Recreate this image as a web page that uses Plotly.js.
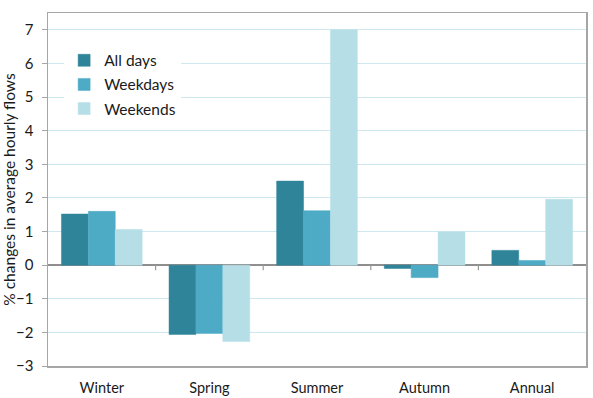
<!DOCTYPE html>
<html>
<head>
<meta charset="utf-8">
<script src="https://cdn.plot.ly/plotly-3.0.1.min.js"></script>
<style>
  html, body { margin: 0; padding: 0; background: #fff; }
  #chart { width: 593px; height: 398px; }
</style>
</head>
<body>
<div id="chart"></div>
<script>
// Seasonal change in average hourly flows (%)
const seasons = ['Winter', 'Spring', 'Summer', 'Autumn', 'Annual'];
const allDays = [1.52, -2.06, 2.50, -0.10, 0.44];
const weekdays = [1.60, -2.03, 1.62, -0.37, 0.14];
const weekends = [1.06, -2.27, 7.00, 0.99, 1.96];

const seriesNames = ['All days', 'Weekdays', 'Weekends'];
const seriesColors = ['#2f8499', '#4dabc6', '#b6dee7'];
const seriesValues = [allDays, weekdays, weekends];

const traces = seriesValues.map((vals, i) => ({
  type: 'bar',
  name: seriesNames[i],
  legendgroup: 'g' + i,
  x: seasons,
  y: vals,
  marker: { color: seriesColors[i], line: { color: seriesColors[i], width: 0.5 } },
  hoverinfo: 'x+y+name'
}));

// small tick marks on the zero line between categories
const tickShapes = [0.5, 1.5, 2.5, 3.5].map(b => ({
  type: 'line',
  xref: 'x', yref: 'y',
  ysizemode: 'pixel', yanchor: 0,
  x0: b, x1: b, y0: 0, y1: -5,
  line: { color: '#9a9a9a', width: 1.2 }
}));

const layout = {
  width: 593, height: 398,
  margin: { l: 48, r: 7, t: 13, b: 32 },
  paper_bgcolor: '#ffffff',
  plot_bgcolor: '#ffffff',
  font: { family: 'Lato, "Noto Sans", sans-serif', size: 14.5, color: '#1a1a1a' },
  barmode: 'group',
  bargap: 0.25,
  bargroupgap: 0,
  showlegend: true,
  legend: {
    x: 0.03, y: 0.913, xanchor: 'left', yanchor: 'top',
    bgcolor: '#ffffff',
    font: { size: 15.5, color: '#1a1a1a' },
    itemwidth: 30,
    tracegroupgap: 1
  },
  xaxis: {
    type: 'category',
    showline: true, mirror: true, linecolor: '#a6a6a6', linewidth: 1.5,
    ticks: '', showgrid: false,
    tickfont: { size: 14.5 },
    ticklabelstandoff: 8
  },
  yaxis: {
    range: [-3, 7.5],
    dtick: 1, tick0: 0,
    showline: true, mirror: true, linecolor: '#a6a6a6', linewidth: 1.5,
    ticks: 'outside', ticklen: 5, tickcolor: '#a6a6a6',
    ticklabelstandoff: 5,
    showgrid: true, gridcolor: '#cfe7ee', gridwidth: 1,
    zeroline: true, zerolinecolor: '#8f8f8f', zerolinewidth: 1.5,
    tickfont: { size: 15 },
    title: { text: '% changes in average hourly flows', font: { size: 15.5 }, standoff: 4 }
  },
  shapes: tickShapes
};

Plotly.newPlot('chart', traces, layout, { displayModeBar: false, staticPlot: true });
</script>
</body>
</html>
